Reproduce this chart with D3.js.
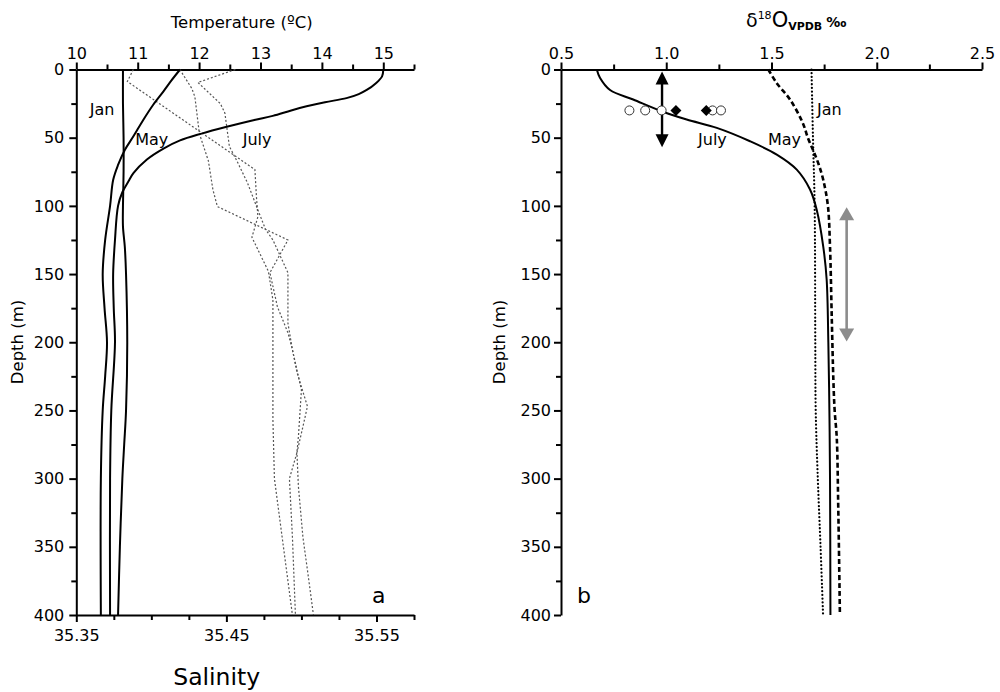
<!DOCTYPE html>
<html><head><meta charset="utf-8">
<script src="https://cdn.jsdelivr.net/npm/d3@7"></script>
<style>
body{margin:0;background:#fff}
svg text{font-family:"DejaVu Sans",sans-serif;fill:#000}
</style>
</head><body>
<svg id="chart" width="1000" height="692"></svg>
<script>
// ---------- data (depth m, value) ----------
const depthTicks = d3.range(0, 401, 25);
const depthLabels = [0, 50, 100, 150, 200, 250, 300, 350, 400];
const tempTicks = d3.range(0, 12).map(i => 10 + i * 0.5);
const tempLabels = [10, 11, 12, 13, 14, 15];
const salTicks = d3.range(0, 10).map(i => +(35.35 + i * 0.025).toFixed(3));
const salLabels = [35.35, 35.45, 35.55];
const d18Ticks = d3.range(0, 9).map(i => 0.5 + i * 0.25);
const d18Labels = [0.5, 1.0, 1.5, 2.0, 2.5];

// Temperature profiles (solid)
const tempJan = [[0,10.76],[25,10.76],[50,10.77],[75,10.77],[100,10.76],[115,10.76],[130,10.79],[150,10.81],[200,10.83],[250,10.81],[275,10.78],[300,10.75],[350,10.71],[400,10.68]];
const tempMay = [[0,11.69],[8,11.55],[16,11.42],[26,11.25],[37,11.09],[49,10.93],[59,10.79],[70,10.68],[81,10.60],[100,10.55],[125,10.47],[150,10.43],[175,10.46],[200,10.50],[225,10.47],[250,10.43],[300,10.40],[400,10.40]];
const tempJuly = [[0,15.0],[5,14.98],[10,14.88],[15,14.73],[18,14.6],[21,14.4],[24,14.05],[27,13.75],[30,13.5],[34,13.2],[37,12.9],[42,12.45],[47,12.04],[52,11.69],[58,11.42],[66,11.15],[76,10.93],[82,10.85],[90,10.75],[100,10.68],[125,10.63],[150,10.60],[175,10.61],[200,10.63],[250,10.57],[300,10.55],[400,10.55]];

// Salinity profiles (grey dotted)
const salA = [[0,35.388],[8.8,35.384],[73.4,35.469],[93,35.470],[108,35.471],[123,35.467],[148,35.478],[169,35.481],[257,35.481],[300,35.482],[350,35.488],[400,35.494]];
const salB = [[0,35.419],[14,35.427],[20,35.429],[47,35.432],[67,35.438],[88,35.441],[100.5,35.444],[125,35.491],[149,35.479],[174,35.484],[193,35.491],[205.5,35.494],[235,35.500],[269,35.498],[281,35.497],[300,35.492],[343,35.494],[400,35.496]];
const salC = [[0,35.456],[9.5,35.431],[25,35.446],[32,35.449],[56.5,35.452],[67,35.457],[83,35.464],[103,35.471],[117,35.476],[125,35.481],[149,35.491],[186,35.491],[205.5,35.494],[222,35.497],[247,35.504],[257,35.502],[281,35.497],[306,35.498],[343,35.501],[367,35.504],[400,35.508]];

// d18O profiles
const d18July = [[0,0.67],[6,0.685],[15,0.733],[22,0.843],[30.6,0.978],[36.7,1.097],[42.8,1.24],[52.6,1.398],[62.4,1.525],[73.4,1.62],[88,1.683],[103,1.715],[130,1.746],[154,1.762],[200,1.77],[250,1.775],[300,1.778],[400,1.78]];
const d18May = [[0,1.485],[10,1.525],[22,1.588],[39,1.648],[51,1.675],[60,1.70],[70,1.725],[81,1.746],[100,1.768],[130,1.778],[180,1.786],[228,1.794],[250,1.80],[270,1.81],[320,1.817],[400,1.825]];
const d18Jan = [[0,1.69],[50,1.697],[100,1.705],[200,1.708],[250,1.71],[300,1.72],[350,1.733],[400,1.745]];

// Foraminifera measurements at 30 m
const markerDepth = 30;
const openCircles = [0.825, 0.90, 0.978, 1.22, 1.26];
const filledDiamonds = [1.046, 1.19];
const blackArrow = {x: 0.98, from: 1.5, to: 57};
const greyArrow = {x: 1.857, from: 101, to: 199.5};

// ---------- scales ----------
const svg = d3.select("#chart");
const yDepth = d3.scaleLinear().domain([0, 400]).range([69.5, 615]);
const xTemp = d3.scaleLinear().domain([10, 15.5]).range([76.3, 414]);
const xSal = d3.scaleLinear().domain([35.35, 35.575]).range([76.3, 414]);
const xD18 = d3.scaleLinear().domain([0.5, 2.5]).range([561, 982]);

function drawAxis(transform, axisFn, scale, ticks, labels, fmt, pad) {
  const isMaj = t => labels.some(l => Math.abs(l - t) < 1e-6);
  const g = svg.append("g").attr("transform", transform);
  g.call(axisFn(scale).tickValues(ticks.filter(t => !isMaj(t))).tickSize(5).tickFormat("").tickSizeOuter(0));
  const g2 = g.append("g").call(axisFn(scale).tickValues(labels).tickSize(7).tickPadding(pad).tickFormat(fmt).tickSizeOuter(0));
  g2.select(".domain").remove();
  g.selectAll("path,line").attr("stroke", "#000").attr("stroke-width", 2);
  g.selectAll("text").attr("font-size", 16).attr("font-family", "DejaVu Sans").attr("fill", "#000");
  return g;
}

// Left panel axes
drawAxis(`translate(76.3,0)`, d3.axisLeft, yDepth, depthTicks, depthLabels, d3.format("d"), 5);
drawAxis(`translate(0,69.5)`, d3.axisTop, xTemp, tempTicks, tempLabels, d3.format("d"), 4);
drawAxis(`translate(0,615)`, d3.axisBottom, xSal, salTicks, salLabels, d3.format(".2f"), 8);
// Right panel axes
drawAxis(`translate(561,0)`, d3.axisLeft, yDepth, depthTicks, depthLabels, d3.format("d"), 3);
drawAxis(`translate(0,69.5)`, d3.axisTop, xD18, d18Ticks, d18Labels, d3.format(".1f"), 4);

// Lines
const curve = d3.curveCatmullRom.alpha(0.5);
const lineT = d3.line().x(d => xTemp(d[1])).y(d => yDepth(d[0])).curve(curve);
const lineS = d3.line().x(d => xSal(d[1])).y(d => yDepth(d[0]));
const lineO = d3.line().x(d => xD18(d[1])).y(d => yDepth(d[0])).curve(curve);

[salA, salB, salC].forEach(s => svg.append("path").attr("d", lineS(s))
  .attr("fill", "none").attr("stroke", "#555").attr("stroke-width", 1.2).attr("stroke-dasharray", "2,2"));
[tempJan, tempMay, tempJuly].forEach(s => svg.append("path").attr("d", lineT(s))
  .attr("fill", "none").attr("stroke", "#000").attr("stroke-width", 2));

svg.append("path").attr("d", lineO(d18Jan)).attr("fill", "none").attr("stroke", "#000")
  .attr("stroke-width", 2.2).attr("stroke-dasharray", "0.1,3.6").attr("stroke-linecap", "round");
svg.append("path").attr("d", lineO(d18May)).attr("fill", "none").attr("stroke", "#000")
  .attr("stroke-width", 2.6).attr("stroke-dasharray", "5,3");
svg.append("path").attr("d", lineO(d18July)).attr("fill", "none").attr("stroke", "#000")
  .attr("stroke-width", 2);

// Arrows
function arrow(a, color, sw, hw, hl) {
  const x = xD18(a.x), y0 = yDepth(a.from), y1 = yDepth(a.to);
  const g = svg.append("g");
  g.append("line").attr("x1", x).attr("x2", x).attr("y1", y0 + hl - 1).attr("y2", y1 - hl + 1)
    .attr("stroke", color).attr("stroke-width", sw);
  g.append("path").attr("d", `M${x},${y0}L${x - hw / 2},${y0 + hl}L${x + hw / 2},${y0 + hl}Z`).attr("fill", color);
  g.append("path").attr("d", `M${x},${y1}L${x - hw / 2},${y1 - hl}L${x + hw / 2},${y1 - hl}Z`).attr("fill", color);
}
arrow(blackArrow, "#000", 2.4, 13, 13);
arrow(greyArrow, "#8c8c8c", 2.6, 15, 13);

// Markers
const my = yDepth(markerDepth);
svg.selectAll("circle.oc").data(openCircles).join("circle").attr("class", "oc")
  .attr("cx", d => xD18(d)).attr("cy", my).attr("r", 4.5)
  .attr("fill", "#fff").attr("stroke", "#333").attr("stroke-width", 1);
svg.selectAll("path.fd").data(filledDiamonds).join("path").attr("class", "fd")
  .attr("d", d => { const x = xD18(d); return `M${x - 5.5},${my}L${x},${my - 5.5}L${x + 5.5},${my}L${x},${my + 5.5}Z`; })
  .attr("fill", "#000");

// Labels
function label(x, y, txt, size) {
  return svg.append("text").attr("x", x).attr("y", y).attr("font-size", size).text(txt);
}
label(xTemp(10.22), yDepth(33), "Jan", 16);
label(xTemp(10.96), yDepth(55.5), "May", 16);
label(xTemp(12.71), yDepth(55), "July", 16);
label(xD18(1.716), yDepth(33), "Jan", 16);
label(xD18(1.151), yDepth(55), "July", 16);
label(xD18(1.483), yDepth(55), "May", 16);
label(xSal(35.547), yDepth(391), "a", 22);
label(xD18(0.576), yDepth(391), "b", 22);

// Axis titles
svg.append("text").attr("x", 241.7).attr("y", 28.3).attr("text-anchor", "middle")
  .attr("font-size", 16.5).text("Temperature (ºC)");
svg.append("text").attr("x", 216.7).attr("y", 685).attr("text-anchor", "middle")
  .attr("font-size", 23.5).text("Salinity");
svg.append("text").attr("transform", "translate(23,342) rotate(-90)").attr("text-anchor", "middle")
  .attr("font-size", 16.5).text("Depth (m)");
svg.append("text").attr("transform", "translate(505,342) rotate(-90)").attr("text-anchor", "middle")
  .attr("font-size", 16.5).text("Depth (m)");

const t = svg.append("text").attr("x", 746).attr("y", 27);
t.append("tspan").attr("font-size", 19).text("δ");
t.append("tspan").attr("font-size", 11).attr("dy", -8).text("18");
t.append("tspan").attr("font-size", 21).attr("dy", 8).text("O");
t.append("tspan").attr("font-size", 11).attr("font-weight", "bold").attr("dy", 3).text("VPDB");
t.append("tspan").attr("font-size", 14).attr("font-weight", "bold").attr("dy", -3).attr("dx", 4).text("‰");
</script>
</body></html>
